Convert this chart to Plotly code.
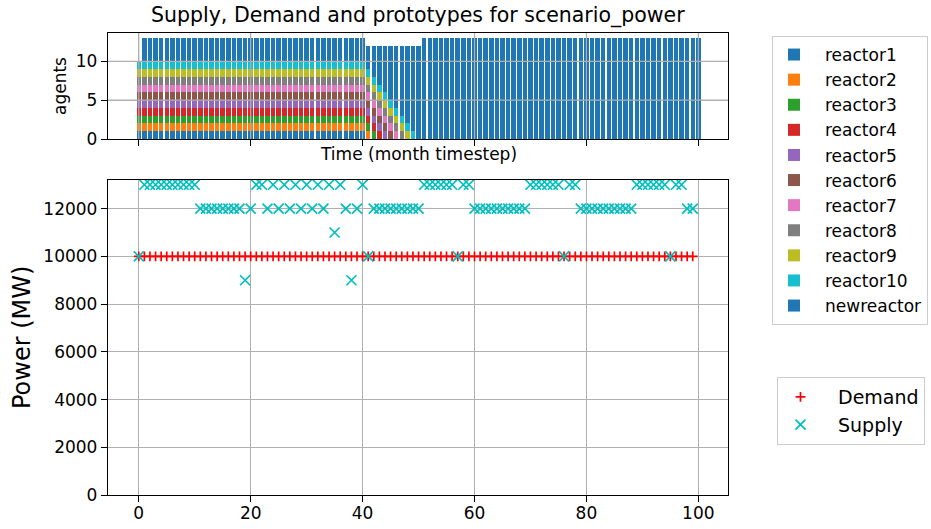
import plotly.graph_objects as go

W, H = 931, 529

# ---------------- data ----------------
months = list(range(101))

reactor_names = ["reactor1", "reactor2", "reactor3", "reactor4", "reactor5",
                 "reactor6", "reactor7", "reactor8", "reactor9", "reactor10",
                 "newreactor"]

reactor1 = [1] * 41 + [0] * 60
reactor2 = [1] * 42 + [0] * 59
reactor3 = [1] * 43 + [0] * 58
reactor4 = [1] * 44 + [0] * 57
reactor5 = [1] * 45 + [0] * 56
reactor6 = [1] * 46 + [0] * 55
reactor7 = [1] * 47 + [0] * 54
reactor8 = [1] * 48 + [0] * 53
reactor9 = [1] * 49 + [0] * 52
reactor10 = [1] * 50 + [0] * 51
newreactor = [0] + [3] * 40 + [3, 4, 5, 6, 7, 8, 9, 10, 11, 12] + [13] * 50

power_t = list(range(100))
demand = [10000] * 100
supply = [
    10000,
    13000, 13000, 13000, 13000, 13000, 13000, 13000, 13000, 13000, 13000,
    12000, 12000, 12000, 12000, 12000, 12000, 12000, 12000,
    9000, 12000,
    13000, 13000, 12000, 13000, 12000, 13000, 12000, 13000, 12000, 13000,
    12000, 13000, 12000, 13000, 11000, 13000, 12000, 9000, 12000, 13000,
    10000,
    12000, 12000, 12000, 12000, 12000, 12000, 12000, 12000, 12000,
    13000, 13000, 13000, 13000, 13000, 13000, 10000, 13000, 13000,
    12000, 12000, 12000, 12000, 12000, 12000, 12000, 12000, 12000, 12000,
    13000, 13000, 13000, 13000, 13000, 13000, 10000, 13000, 13000,
    12000, 12000, 12000, 12000, 12000, 12000, 12000, 12000, 12000, 12000,
    13000, 13000, 13000, 13000, 13000, 13000, 10000, 13000, 13000,
    12000, 12000,
]

x_ticks = [0, 20, 40, 60, 80, 100]
agent_ticks = [0, 5, 10]
power_ticks = [0, 2000, 4000, 6000, 8000, 10000, 12000]

colors = ["#1f77b4", "#ff7f0e", "#2ca02c", "#d62728", "#9467bd",
          "#8c564b", "#e377c2", "#7f7f7f", "#bcbd22", "#17becf", "#1f77b4"]

# ---------------- helpers (screen px -> paper) ----------------
def px(x):
    return x / W


def py(y):
    return 1 - y / H


FONT = "DejaVu Sans"
GRID = "#b0b0b0"

fig = go.Figure()

series = [reactor1, reactor2, reactor3, reactor4, reactor5, reactor6,
          reactor7, reactor8, reactor9, reactor10, newreactor]
for name, vals, col in zip(reactor_names, series, colors):
    fig.add_trace(go.Bar(x=months, y=vals, name=name, marker_color=col,
                         marker_line_width=0, width=0.8,
                         xaxis="x", yaxis="y", legend="legend"))

fig.add_trace(go.Scatter(x=power_t, y=demand, mode="markers", name="Demand",
                         marker=dict(symbol="cross-thin", size=7, color="red",
                                     line=dict(color="red", width=1.7)),
                         xaxis="x2", yaxis="y2", legend="legend2"))
fig.add_trace(go.Scatter(x=power_t, y=supply, mode="markers", name="Supply",
                         marker=dict(symbol="x-thin", size=10, color="#00bfbf",
                                     line=dict(color="#00bfbf", width=1.7)),
                         xaxis="x2", yaxis="y2", legend="legend2"))

axis_common = dict(showline=True, linecolor="black", linewidth=1.3, mirror=True,
                   ticks="outside", ticklen=6, tickwidth=1.3, tickcolor="black",
                   showgrid=True, gridcolor=GRID, gridwidth=1.2, zeroline=False,
                   tickfont=dict(family=FONT, size=17, color="black"),
                   tickformat="d", automargin=False)

xdom = [px(108), px(728)]
fig.update_layout(
    width=W, height=H,
    margin=dict(l=0, r=0, t=0, b=0),
    paper_bgcolor="white", plot_bgcolor="white",
    barmode="stack", bargap=0,
    font=dict(family=FONT, color="black"),
    xaxis=dict(domain=xdom, anchor="y", range=[-5.5, 105.3], tickvals=x_ticks,
               showticklabels=False, **axis_common),
    yaxis=dict(domain=[py(139), py(33)], anchor="x", range=[0, 13.65],
               tickvals=agent_ticks, **axis_common),
    xaxis2=dict(domain=xdom, anchor="y2", range=[-5.5, 105.3], tickvals=x_ticks,
                ticklabelstandoff=-4, **axis_common),
    yaxis2=dict(domain=[py(495), py(180)], anchor="x2", range=[0, 13200],
                tickvals=power_ticks, **axis_common),
    legend=dict(x=px(772), y=py(36), xanchor="left", yanchor="top",
                bordercolor="#cccccc", borderwidth=1, bgcolor="white",
                font=dict(family=FONT, size=17, color="black"),
                traceorder="normal", itemwidth=52, indentation=-10,
                tracegroupgap=0),
    legend2=dict(x=px(777), y=py(377), xanchor="left", yanchor="top",
                 bordercolor="#cccccc", borderwidth=1, bgcolor="white",
                 font=dict(family=FONT, size=19, color="black"),
                 traceorder="normal", itemwidth=65, indentation=-15),
    showlegend=True,
)

# grid lines drawn above the bars in the top panel
shapes = []
for v in x_ticks:
    shapes.append(dict(type="line", xref="x", yref="y domain", x0=v, x1=v,
                       y0=0, y1=1, layer="above",
                       line=dict(color=GRID, width=1.2)))
for v in agent_ticks[1:]:
    shapes.append(dict(type="line", xref="x domain", yref="y", x0=0, x1=1,
                       y0=v, y1=v, layer="above",
                       line=dict(color=GRID, width=1.2)))
fig.update_layout(shapes=shapes)

annotations = [
    dict(text="Supply, Demand and prototypes for scenario_power", x=px(418), y=py(15),
         xref="paper", yref="paper", showarrow=False, xanchor="center", yanchor="middle",
         font=dict(family=FONT, size=20.5, color="black")),
    dict(text="agents", x=px(60), y=py(86), xref="paper", yref="paper",
         showarrow=False, textangle=-90, xanchor="center", yanchor="middle",
         font=dict(family=FONT, size=17, color="black")),
    dict(text="Time (month timestep)", x=px(418), y=py(154), xref="paper", yref="paper",
         showarrow=False, xanchor="center", yanchor="middle",
         font=dict(family=FONT, size=17, color="black")),
    dict(text="Power (MW)", x=px(22), y=py(338), xref="paper", yref="paper",
         showarrow=False, textangle=-90, xanchor="center", yanchor="middle",
         font=dict(family=FONT, size=24, color="black")),
]
fig.update_layout(annotations=annotations)

fig.write_html(
    "out.html",
    config={"displayModeBar": False},
    post_script="document.body.style.margin='0px';document.body.style.overflow='hidden';",
)
